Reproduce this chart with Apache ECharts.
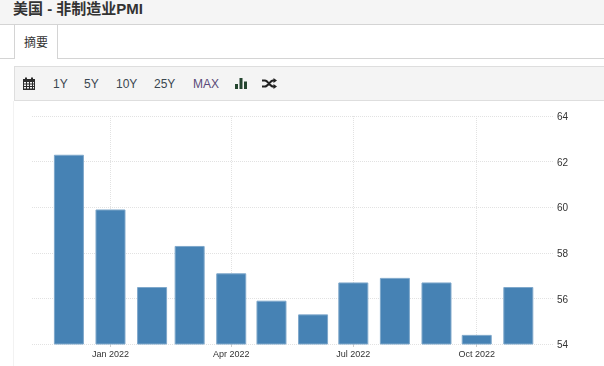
<!DOCTYPE html>
<html><head><meta charset="utf-8">
<style>
html,body{margin:0;padding:0;background:#fff;width:604px;height:366px;overflow:hidden;font-family:"Liberation Sans","Noto Sans CJK SC",sans-serif;color:#333}
.abs{position:absolute;box-sizing:border-box}
#bar{left:0;top:0;width:604px;height:25px;background:#f5f5f5;border-bottom:1px solid #d4d4d4;font:bold 15px/18px "Liberation Sans","Noto Sans CJK SC",sans-serif;padding:0 0 0 13px;color:#333}
#tabline{left:0;top:58px;width:604px;height:1px;background:#d4d4d4}
#tab{left:14px;top:25px;width:44px;height:34px;background:#fff;border:1px solid #d4d4d4;border-top:0;border-bottom:0;font:12px/33px "Noto Sans CJK SC",sans-serif;text-align:center;color:#333}
#tool{left:14px;top:66px;width:590px;height:35px;background:#f4f4f4;border:1px solid #dedede;border-right:0}
#side{left:13px;top:101px;width:1px;height:265px;background:#f2f2f2}
.t{position:absolute;top:77px;font:12px/14px "Liberation Sans",sans-serif;color:#3a4650}
#chart{left:0;top:100px;width:604px;height:266px}
svg{position:absolute}
</style></head><body>
<div class="abs" id="bar">美国 - 非制造业PMI</div>
<div class="abs" id="tool"></div>
<div class="abs" id="tabline"></div>
<div class="abs" id="tab">摘要</div>
<div class="abs" id="side"></div>
<svg style="left:23px;top:77px" width="12" height="13" viewBox="0 0 12 13"><path fill="#2c2c2c" d="M0 2h2V0.5h2V2h4V0.5h2V2h2v11H0zM1 5v1.5h2V5zm3 0v1.5h2V5zm3 0v1.5h2V5zm3 0v1.5h1V5zM1 7.5V9h2V7.5zm3 0V9h2V7.5zm3 0V9h2V7.5zm3 0V9h1V7.5zM1 10v1.5h2V10zm3 0v1.5h2V10zm3 0v1.5h2V10zm3 0v1.5h1V10z"/></svg>
<span class="t" style="left:53px">1Y</span>
<span class="t" style="left:84px">5Y</span>
<span class="t" style="left:116px">10Y</span>
<span class="t" style="left:154px">25Y</span>
<span class="t" style="left:193px;color:#5a4a78">MAX</span>
<svg style="left:235px;top:78px" width="12" height="11" viewBox="0 0 12 11"><path fill="#24452f" d="M0 6h3v5H0zM4.500 0h3v11h-3zM9 3.500h3V11H9z"/></svg>
<svg style="left:262px;top:78px" width="15" height="11" viewBox="0 0 15 11"><path fill="none" stroke="#222" stroke-width="2" d="M0 2.500h3c3 0 5 6 8 6h1M0 8.500h3c3 0 5-6 8-6h1"/><path fill="#222" d="M11.500 0l3.500 2.500-3.500 2.500zM11.500 6l3.500 2.500-3.500 2.500z"/></svg>
<div class="abs" id="chart"></div>
<script src="https://cdn.jsdelivr.net/npm/echarts@6/dist/echarts.min.js"></script>
<script>
const months = ["2021-12-01","2022-01-01","2022-02-01","2022-03-01","2022-04-01","2022-05-01","2022-06-01","2022-07-01","2022-08-01","2022-09-01","2022-10-01","2022-11-01"];
const values = [62.3,59.9,56.5,58.3,57.1,55.9,55.3,56.7,56.9,56.7,54.4,56.5];
const axisStart = "2021-11-14T16:00:00";
const axisEnd = "2022-11-15T16:00:00";
const monthNames = ["Jan","Feb","Mar","Apr","May","Jun","Jul","Aug","Sep","Oct","Nov","Dec"];
const chart = echarts.init(document.getElementById('chart'), null, {renderer:'canvas'});
const gridLine = {show:true, showMinLine:false, showMaxLine:false, lineStyle:{color:'#e2e2e2', width:1, type:[1,1]}};
chart.setOption({
  animation:false,
  grid:{left:32, right:51, top:16, height:228},
  xAxis:{type:'time', min:axisStart, max:axisEnd, minInterval:100*864e5, maxInterval:100*864e5,
    axisLine:{show:false},
    axisTick:{show:true, length:3, lineStyle:{color:'#ccc'}},
    splitLine:gridLine,
    axisLabel:{color:'#333', fontSize:9, fontFamily:'"Liberation Sans",sans-serif', margin:6, hideOverlap:false, showMinLabel:false, showMaxLabel:false,
      formatter:v=>{const d=new Date(v);return monthNames[d.getMonth()]+' '+d.getFullYear();}}},
  yAxis:{type:'value', position:'right', min:54, max:64, interval:2,
    axisLine:{show:false}, axisTick:{show:false},
    splitLine:{show:true, lineStyle:{color:'#e2e2e2', width:1, type:[1,1]}},
    axisLabel:{color:'#333', fontSize:10, fontFamily:'"Liberation Sans",sans-serif', margin:4,
      formatter:'{a|{value}}', rich:{a:{color:'#333', fontSize:10, fontFamily:'"Liberation Sans",sans-serif', padding:[3,0,0,0]}}}},
  series:[{type:'bar', data:months.map((m,i)=>[m,values[i]]), barWidth:30,
    itemStyle:{color:'#4682b4', borderColor:'#7fa8cb', borderWidth:1}}]
});
</script>
</body></html>
